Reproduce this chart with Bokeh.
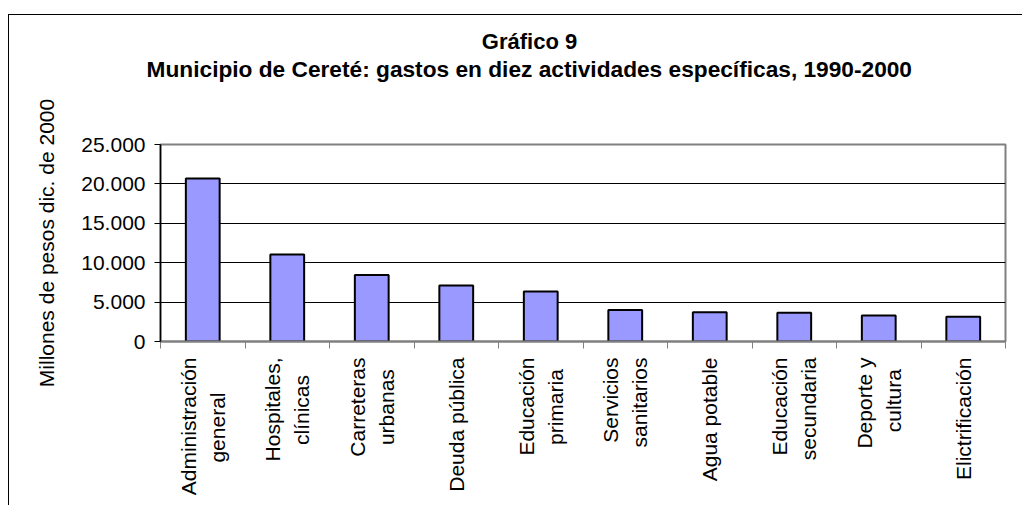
import math
from bokeh.plotting import figure
from bokeh.models import Range1d, FixedTicker, Title
from bokeh.embed import file_html
from bokeh.resources import INLINE

categories = ["Administración\ngeneral", "Hospitales,\nclínicas", "Carreteras\nurbanas",
              "Deuda pública", "Educación\nprimaria", "Servicios\nsanitarios",
              "Agua potable", "Educación\nsecundaria", "Deporte y\ncultura", "Elictrificación"]
values = [20700, 11050, 8450, 7100, 6350, 4000, 3700, 3650, 3300, 3150]
y_ticks = [0, 5000, 10000, 15000, 20000, 25000]
y_tick_labels = ["0", "5.000", "10.000", "15.000", "20.000", "25.000"]
title_line1 = "Gráfico 9"
title_line2 = "Municipio de Cereté: gastos en diez actividades específicas, 1990-2000"
y_label = "Millones de pesos dic. de 2000"

FONT = "Liberation Sans"
n = len(categories)
xs = [i + 0.5 for i in range(n)]

# approximate Arial-metric advance widths (1/1000 em), regular and bold
_REG = {"A": 667, "D": 722, "E": 667, "H": 722, "C": 722, "S": 667, "a": 556, "b": 556,
        "c": 500, "d": 556, "e": 556, "f": 278, "g": 556, "i": 222, "l": 222, "m": 833,
        "n": 556, "o": 556, "p": 556, "r": 333, "s": 500, "t": 278, "u": 556, "v": 500,
        "y": 500, "á": 556, "é": 556, "í": 278, "ó": 556, "ú": 556, ",": 278, " ": 278}
_BOLD = {"M": 833, "C": 722, "G": 778, "a": 556, "c": 556, "d": 611, "e": 556, "f": 333,
         "g": 611, "i": 278, "n": 611, "o": 611, "p": 611, "r": 389, "s": 556, "t": 333,
         "u": 611, "v": 556, "z": 500, "á": 556, "é": 556, "í": 278, ":": 333, ",": 278,
         "-": 333, " ": 278}


def em(s, table):
    return sum(table.get(ch, 556) for ch in s) / 1000


def centred(label):
    # axis labels are end-aligned; pad the shorter line with no-break spaces to centre it
    lines = label.split("\n")
    if len(lines) == 1:
        return label
    longest = max(em(l, _REG) for l in lines)
    out = []
    for l in lines:
        k = round((longest - em(l, _REG)) / 2 / 0.278)
        out.append(l + "\u00a0" * k)
    return "\n".join(out)


W, H = 1014, 491
FRAME_LEFT_PAGE = 160
TITLE_CENTER_PAGE = 529
p = figure(width=W, height=H, x_range=Range1d(0, n), y_range=Range1d(0, y_ticks[-1]),
           output_backend="svg", toolbar_location=None,
           min_border_left=151, min_border_right=18, min_border_top=129, min_border_bottom=165)
p.title.visible = False
p.styles = {"border-top": "1px solid black", "border-left": "1px solid black",
            "margin-top": "14px", "margin-left": "8px"}
p.background_fill_color = "white"
p.border_fill_color = "white"
p.outline_line_color = "#808080"
p.outline_line_width = 2

p.vbar(x=xs, top=values, bottom=0, width=0.4, fill_color="#9999FF",
       line_color="black", line_width=2)

# grid
p.xgrid.visible = False
p.ygrid.ticker = FixedTicker(ticks=y_ticks)
p.ygrid.grid_line_color = "black"
p.ygrid.grid_line_width = 1

# x axis
xa = p.xaxis[0]
xa.ticker = FixedTicker(ticks=xs, minor_ticks=list(range(n + 1)))
xa.major_label_overrides = {x: centred(c) for x, c in zip(xs, categories)}
xa.major_tick_line_color = None
xa.minor_tick_line_color = "#808080"
xa.minor_tick_line_width = 1
xa.minor_tick_out = 7
xa.minor_tick_in = 0
xa.axis_line_color = "#808080"
xa.axis_line_width = 2
xa.major_label_orientation = math.pi / 2
xa.major_label_standoff = 9
xa.major_label_text_font = FONT
xa.major_label_text_font_size = "21px"
xa.major_label_text_color = "black"
xa.major_label_text_line_height = 1.25

# y axis
ya = p.yaxis[0]
ya.ticker = FixedTicker(ticks=y_ticks, minor_ticks=[])
ya.major_label_overrides = {t: l for t, l in zip(y_ticks, y_tick_labels)}
ya.major_tick_out = 6
ya.major_tick_in = 0
ya.major_tick_line_color = "black"
ya.axis_line_color = "black"
ya.axis_line_width = 1.5
ya.major_label_standoff = 9
ya.major_label_text_font = FONT
ya.major_label_text_font_size = "21px"
ya.major_label_text_color = "black"
ya.axis_label = y_label
ya.axis_label_text_font = FONT
ya.axis_label_text_font_size = "21px"
ya.axis_label_text_font_style = "normal"
ya.axis_label_text_color = "black"
ya.axis_label_standoff = 20

# titles (stacked above the frame: spacer, second line, first line)
p.add_layout(Title(text=" ", text_font=FONT, text_font_size="22px", standoff=36), "above")
for txt, size in ((title_line2, 22.7), (title_line1, 22)):
    w = em(txt, _BOLD) * size
    p.add_layout(Title(text=txt, align="left", offset=TITLE_CENTER_PAGE - w / 2 - FRAME_LEFT_PAGE,
                       standoff=0, text_font=FONT, text_font_size=f"{size}px",
                       text_font_style="bold", text_color="black"), "above")

open("out.html", "w").write(file_html(p, INLINE))
